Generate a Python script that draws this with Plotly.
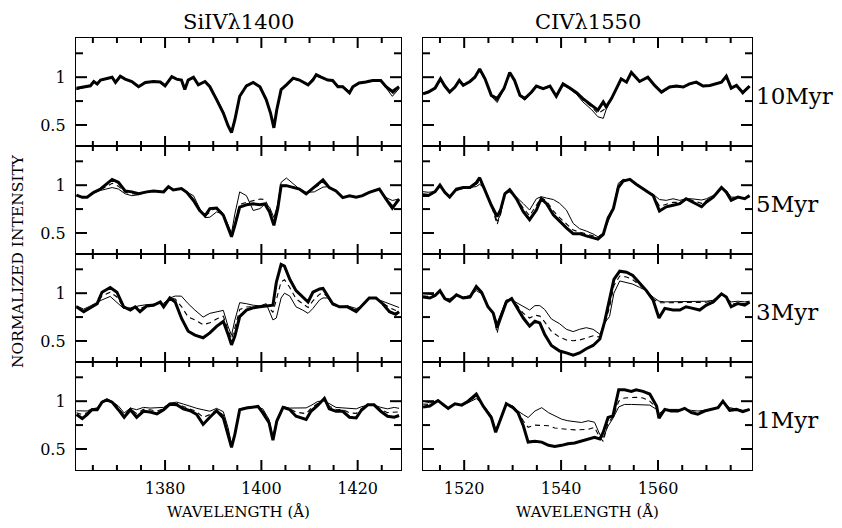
import plotly.graph_objects as go

# ---------------- data ----------------
# Si IV 1400, 10 Myr
si10_lam = [1361.6,1363.1,1364.5,1365.2,1365.9,1366.6,1367.9,1369.0,1369.7,1370.7,1371.7,1373.1,1374.5,1375.9,1377.6,1379.0,1380.0,1381.4,1382.4,1383.4,1384.1,1384.8,1385.9,1386.9,1388.3,1389.3,1390.7,1392.1,1393.1,1393.8,1394.5,1395.5,1396.9,1398.3,1399.7,1401.0,1401.9,1402.6,1403.2,1404.1,1405.2,1406.6,1407.9,1409.7,1410.7,1411.4,1412.4,1413.8,1414.8,1415.9,1416.9,1418.3,1419.0,1420.3,1421.7,1423.1,1424.8,1425.9,1427.2,1428.6]
si10_thick = [0.885,0.90,0.91,0.955,0.93,0.97,0.985,1.0,0.945,1.01,0.98,0.955,0.90,0.945,0.955,0.95,0.91,1.005,0.98,0.97,0.87,0.97,1.0,0.92,0.955,0.90,0.765,0.625,0.49,0.42,0.555,0.80,0.91,0.945,0.90,0.765,0.625,0.47,0.66,0.87,0.92,0.99,0.97,0.92,0.97,1.025,1.0,0.97,0.965,0.90,0.90,0.835,0.90,0.94,0.95,0.965,0.965,0.90,0.85,0.90]
si10_thin = [0.87,0.89,0.91,0.95,0.93,0.965,0.98,0.995,0.95,1.0,0.98,0.955,0.91,0.94,0.95,0.95,0.915,1.0,0.975,0.965,0.88,0.96,0.99,0.925,0.95,0.905,0.78,0.64,0.50,0.44,0.56,0.80,0.92,0.94,0.905,0.775,0.63,0.48,0.66,0.87,0.92,0.98,0.965,0.925,0.99,1.01,0.995,0.97,0.96,0.91,0.905,0.85,0.905,0.935,0.945,0.96,0.96,0.89,0.80,0.88]
si10_dash = [0.88,0.895,0.91,0.95,0.93,0.968,0.982,0.998,0.948,1.005,0.98,0.955,0.905,0.942,0.952,0.95,0.912,1.002,0.978,0.968,0.875,0.965,0.995,0.922,0.952,0.902,0.772,0.632,0.495,0.43,0.558,0.80,0.915,0.942,0.902,0.77,0.628,0.475,0.66,0.87,0.92,0.985,0.968,0.922,0.98,1.018,0.998,0.97,0.962,0.905,0.902,0.842,0.902,0.938,0.948,0.962,0.962,0.895,0.825,0.89]

# Si IV 1400, 5 Myr
si5_lam = [1361.6,1362.8,1363.8,1365.2,1366.6,1367.9,1369.0,1370.3,1371.7,1373.1,1374.5,1376.2,1377.6,1379.7,1380.7,1381.7,1383.4,1384.5,1385.9,1387.2,1388.3,1389.3,1390.7,1392.1,1393.1,1393.8,1394.5,1395.5,1396.9,1398.3,1399.7,1400.7,1401.7,1402.6,1403.4,1404.1,1405.2,1406.6,1407.9,1409.3,1411.0,1412.8,1414.1,1415.5,1416.9,1418.3,1419.7,1421.0,1422.4,1424.5,1425.9,1427.2,1428.6]
si5_thick = [0.897,0.873,0.873,0.925,0.96,1.01,1.06,1.03,0.94,0.93,0.91,0.93,0.94,0.93,0.985,0.95,0.965,0.925,0.84,0.735,0.68,0.755,0.76,0.685,0.55,0.46,0.58,0.77,0.795,0.805,0.795,0.805,0.72,0.58,0.755,0.995,0.995,0.975,0.96,0.91,0.985,1.055,0.975,0.94,0.87,0.89,0.875,0.89,0.925,0.96,0.855,0.76,0.855]
si5_thin = [0.89,0.87,0.875,0.92,0.945,0.96,0.975,0.96,0.91,0.89,0.90,0.93,0.935,0.93,0.975,0.95,0.96,0.93,0.89,0.755,0.66,0.665,0.72,0.70,0.58,0.50,0.70,0.93,0.89,0.735,0.755,0.80,0.77,0.66,0.80,1.03,1.075,1.02,0.96,0.925,0.93,0.98,0.985,0.94,0.87,0.89,0.875,0.89,0.925,0.96,0.87,0.84,0.855]
si5_dash = [0.895,0.87,0.875,0.925,0.955,0.985,1.02,0.99,0.925,0.91,0.905,0.93,0.94,0.93,0.98,0.95,0.963,0.928,0.85,0.74,0.675,0.72,0.77,0.70,0.56,0.47,0.61,0.80,0.82,0.84,0.855,0.85,0.75,0.60,0.76,1.0,1.0,0.98,0.96,0.915,0.97,1.03,0.975,0.94,0.87,0.89,0.875,0.89,0.925,0.96,0.86,0.79,0.855]

# Si IV 1400, 3 Myr
si3_lam = [1361.6,1363.1,1364.5,1365.9,1366.9,1368.6,1370.0,1371.4,1372.8,1373.8,1374.8,1376.2,1377.6,1379.0,1379.7,1381.0,1382.1,1383.4,1384.8,1386.2,1387.9,1389.3,1390.7,1392.1,1393.1,1393.8,1394.5,1395.5,1396.9,1398.3,1399.7,1401.0,1402.4,1403.1,1404.1,1404.8,1405.9,1407.2,1408.6,1409.7,1410.7,1412.1,1412.8,1413.8,1414.8,1416.2,1417.9,1419.7,1420.7,1422.4,1423.8,1425.2,1426.6,1427.9,1428.6]
si3_thick = [0.857,0.806,0.847,0.89,1.01,1.06,1.01,0.857,0.823,0.857,0.806,0.867,0.874,0.908,0.857,0.95,0.908,0.738,0.602,0.561,0.534,0.585,0.653,0.704,0.568,0.459,0.551,0.755,0.823,0.847,0.857,0.867,0.874,1.112,1.30,1.283,1.146,1.027,0.96,0.908,1.01,1.044,1.05,0.976,0.89,0.857,0.857,0.806,0.857,0.95,0.95,0.89,0.806,0.779,0.806]
si3_thin = [0.867,0.833,0.867,0.908,0.93,0.966,0.908,0.84,0.847,0.86,0.87,0.88,0.884,0.89,0.894,0.95,0.97,0.969,0.89,0.823,0.75,0.789,0.806,0.82,0.65,0.56,0.72,0.901,0.89,0.874,0.867,0.89,0.72,0.74,0.95,1.0,0.97,0.857,0.823,0.789,0.84,0.93,0.95,0.95,0.874,0.857,0.867,0.84,0.857,0.95,0.942,0.915,0.89,0.857,0.85]
si3_dash = [0.86,0.82,0.855,0.90,0.97,1.01,0.96,0.85,0.83,0.86,0.84,0.87,0.88,0.90,0.875,0.95,0.94,0.86,0.75,0.72,0.67,0.69,0.73,0.76,0.61,0.52,0.64,0.83,0.855,0.86,0.862,0.878,0.80,0.93,1.12,1.14,1.06,0.94,0.89,0.85,0.92,0.99,1.0,0.963,0.882,0.857,0.862,0.823,0.857,0.95,0.946,0.90,0.85,0.82,0.83]

# Si IV 1400, 1 Myr
si1_lam = [1361.6,1362.8,1363.8,1364.8,1365.9,1366.9,1367.9,1369.0,1370.3,1371.5,1372.8,1374.1,1375.5,1376.9,1378.3,1379.7,1381.0,1382.4,1383.8,1385.2,1386.6,1387.9,1389.3,1390.7,1392.1,1393.1,1393.8,1394.5,1395.5,1396.9,1398.3,1399.3,1400.3,1401.6,1402.4,1403.2,1404.5,1405.9,1407.2,1409.3,1410.3,1411.7,1413.1,1414.1,1415.5,1416.9,1418.3,1419.7,1420.7,1422.1,1423.4,1424.8,1426.2,1427.6,1428.6]
si1_thick = [0.86,0.818,0.86,0.911,0.911,0.99,1.014,0.99,0.911,0.832,0.911,0.832,0.894,0.887,0.866,0.911,0.969,0.962,0.921,0.90,0.86,0.757,0.832,0.90,0.825,0.654,0.517,0.654,0.911,0.928,0.935,0.945,0.877,0.774,0.592,0.791,0.935,0.911,0.842,0.808,0.894,0.955,1.03,0.921,0.894,0.894,0.832,0.825,0.90,0.962,0.962,0.894,0.842,0.832,0.85]
si1_thin = [0.90,0.897,0.897,0.92,0.93,0.997,1.024,0.997,0.95,0.877,0.928,0.911,0.935,0.928,0.928,0.935,0.98,0.99,0.97,0.945,0.925,0.91,0.895,0.925,0.89,0.72,0.55,0.67,0.92,0.935,0.945,0.935,0.92,0.808,0.62,0.81,0.945,0.928,0.928,0.93,0.955,0.997,1.003,0.975,0.935,0.93,0.925,0.92,0.94,0.96,0.96,0.935,0.92,0.935,0.925]
si1_dash = [0.88,0.86,0.88,0.915,0.92,0.993,1.02,0.993,0.93,0.855,0.92,0.87,0.915,0.91,0.895,0.923,0.975,0.976,0.945,0.92,0.89,0.83,0.86,0.91,0.855,0.68,0.53,0.66,0.915,0.932,0.94,0.94,0.90,0.79,0.605,0.80,0.94,0.92,0.885,0.87,0.925,0.975,1.015,0.948,0.915,0.912,0.878,0.872,0.92,0.961,0.961,0.915,0.88,0.883,0.888]

# C IV 1550, 10 Myr
c10_lam = [1511.5,1512.6,1514.0,1515.1,1516.0,1517.0,1518.1,1519.0,1519.8,1521.2,1522.2,1523.2,1524.3,1525.6,1526.8,1528.2,1529.4,1530.4,1531.5,1532.5,1533.9,1534.9,1536.3,1537.7,1539.0,1540.4,1541.8,1543.2,1544.5,1546.3,1547.6,1548.7,1549.3,1550.4,1551.4,1552.4,1553.5,1554.5,1556.2,1557.9,1559.3,1560.7,1562.4,1563.8,1565.2,1566.5,1567.9,1569.3,1570.7,1572.0,1573.1,1574.1,1575.1,1576.2,1577.5,1578.9]
c10_thick = [0.827,0.845,0.886,0.983,0.907,0.845,0.897,0.966,0.914,0.955,1.0,1.086,0.983,0.81,0.776,0.88,1.05,0.966,0.81,0.776,0.845,0.907,0.88,0.907,0.80,0.93,0.886,0.838,0.776,0.706,0.655,0.741,0.69,0.776,0.88,0.983,0.948,1.05,0.955,1.0,0.914,0.845,0.897,0.907,0.897,0.93,0.948,0.907,0.914,0.93,0.948,1.01,0.886,0.914,0.838,0.907]
c10_thin = [0.83,0.85,0.89,0.975,0.91,0.85,0.90,0.96,0.92,0.955,0.995,1.075,0.975,0.80,0.735,0.87,1.04,0.955,0.80,0.76,0.835,0.90,0.875,0.90,0.79,0.92,0.875,0.82,0.741,0.66,0.586,0.569,0.66,0.79,0.89,0.97,0.95,1.04,0.95,0.995,0.91,0.83,0.89,0.90,0.89,0.925,0.94,0.90,0.91,0.93,0.955,1.02,0.875,0.91,0.82,0.90]
c10_dash = [0.828,0.848,0.888,0.98,0.908,0.848,0.898,0.963,0.917,0.955,0.998,1.08,0.979,0.805,0.755,0.875,1.045,0.96,0.805,0.768,0.84,0.903,0.877,0.903,0.795,0.925,0.88,0.83,0.76,0.69,0.62,0.65,0.675,0.783,0.885,0.976,0.949,1.045,0.952,0.997,0.912,0.838,0.893,0.903,0.893,0.927,0.944,0.903,0.912,0.93,0.951,1.015,0.88,0.912,0.83,0.903]

# C IV 1550, 5 Myr
c5_lam = [1511.5,1512.6,1514.0,1515.0,1516.0,1517.0,1518.4,1519.8,1521.2,1522.5,1523.2,1524.3,1525.6,1526.8,1527.5,1528.4,1529.4,1530.8,1532.2,1533.5,1534.9,1535.9,1537.0,1538.4,1539.7,1541.1,1542.5,1543.8,1545.2,1546.6,1547.6,1548.7,1549.7,1550.8,1551.8,1552.8,1554.2,1555.5,1556.9,1557.9,1559.0,1560.3,1561.7,1563.1,1564.5,1565.8,1566.9,1567.9,1569.0,1570.0,1571.4,1573.1,1574.1,1575.1,1576.5,1577.9,1578.9]
c5_thick = [0.892,0.892,0.932,1.0,0.926,0.875,0.959,0.976,0.976,1.027,1.078,0.943,0.79,0.672,0.74,0.909,0.953,0.858,0.723,0.639,0.74,0.858,0.807,0.689,0.622,0.554,0.493,0.493,0.47,0.453,0.436,0.486,0.655,0.757,0.976,1.044,1.061,1.01,0.966,0.932,0.892,0.73,0.774,0.79,0.807,0.858,0.831,0.807,0.774,0.824,0.875,0.976,0.926,0.841,0.875,0.858,0.892]
c5_thin = [0.932,0.926,0.932,0.986,0.926,0.892,0.943,0.966,0.976,0.986,1.01,0.96,0.79,0.622,0.69,0.926,0.926,0.875,0.807,0.74,0.858,0.88,0.865,0.85,0.81,0.74,0.60,0.545,0.52,0.49,0.46,0.50,0.62,0.75,1.02,1.061,1.055,1.01,0.96,0.93,0.905,0.85,0.841,0.858,0.841,0.858,0.858,0.85,0.845,0.858,0.892,0.96,0.943,0.875,0.875,0.865,0.875]
c5_dash = [0.91,0.905,0.93,0.99,0.926,0.88,0.95,0.97,0.976,1.01,1.045,0.95,0.79,0.59,0.70,0.915,0.94,0.86,0.76,0.68,0.79,0.87,0.835,0.73,0.66,0.60,0.53,0.51,0.49,0.47,0.445,0.49,0.64,0.755,0.99,1.05,1.06,1.01,0.963,0.93,0.90,0.78,0.80,0.82,0.82,0.858,0.845,0.83,0.81,0.84,0.88,0.97,0.935,0.86,0.875,0.86,0.885]

# C IV 1550, 3 Myr
c3_lam = [1511.5,1512.9,1514.0,1515.0,1516.0,1517.0,1518.4,1519.8,1521.2,1522.5,1523.6,1524.9,1526.0,1526.8,1527.5,1528.7,1529.8,1530.8,1532.2,1533.5,1534.6,1535.6,1536.6,1538.0,1539.7,1541.1,1542.5,1543.8,1545.2,1546.6,1548.0,1549.0,1550.0,1550.9,1552.1,1553.5,1554.8,1556.2,1557.6,1559.0,1560.2,1561.4,1563.1,1564.5,1565.8,1567.2,1568.6,1570.0,1571.4,1573.1,1574.1,1575.1,1576.5,1577.9,1578.9]
c3_thick = [0.959,0.949,0.976,1.027,0.943,0.916,0.983,0.949,0.959,1.071,1.01,0.858,0.791,0.639,0.74,0.909,0.943,0.858,0.74,0.655,0.706,0.689,0.571,0.453,0.395,0.375,0.351,0.375,0.419,0.453,0.52,0.706,0.943,1.145,1.23,1.22,1.186,1.111,1.027,0.926,0.74,0.841,0.824,0.824,0.858,0.841,0.824,0.875,0.909,0.993,0.959,0.858,0.892,0.875,0.909]
c3_thin = [0.993,0.983,0.983,1.01,0.943,0.943,0.976,0.959,0.976,1.027,0.993,0.858,0.791,0.689,0.78,0.93,0.93,0.90,0.858,0.824,0.87,0.87,0.83,0.73,0.68,0.622,0.598,0.622,0.639,0.622,0.571,0.689,0.757,1.0,1.128,1.111,1.095,1.061,1.027,0.959,0.916,0.909,0.909,0.909,0.916,0.909,0.916,0.916,0.926,0.993,0.95,0.909,0.916,0.909,0.916]
c3_dash = [0.97,0.965,0.98,1.02,0.943,0.93,0.98,0.955,0.965,1.05,1.0,0.858,0.79,0.578,0.76,0.92,0.935,0.88,0.79,0.74,0.77,0.76,0.70,0.60,0.54,0.51,0.503,0.51,0.53,0.554,0.54,0.69,0.85,1.08,1.18,1.17,1.14,1.085,1.027,0.94,0.90,0.90,0.90,0.90,0.905,0.90,0.90,0.905,0.92,0.993,0.955,0.88,0.90,0.89,0.912]

# C IV 1550, 1 Myr
c1_lam = [1511.5,1512.9,1514.6,1515.7,1516.7,1518.1,1519.5,1520.8,1522.5,1523.9,1525.6,1526.5,1527.4,1528.7,1530.1,1531.1,1532.2,1533.2,1534.6,1536.0,1537.4,1538.7,1540.1,1541.4,1542.8,1544.2,1545.6,1546.9,1548.0,1548.7,1549.7,1550.7,1551.9,1553.1,1554.5,1555.5,1556.9,1558.3,1559.7,1560.2,1561.4,1562.7,1564.1,1565.5,1566.9,1568.2,1569.6,1571.0,1572.4,1573.4,1574.8,1576.2,1577.5,1578.9]
c1_thick = [0.938,0.949,1.007,0.966,0.925,0.973,0.959,1.0,1.075,0.949,0.829,0.675,0.795,0.973,0.932,0.88,0.743,0.572,0.582,0.572,0.538,0.527,0.538,0.555,0.562,0.582,0.606,0.623,0.606,0.675,0.829,0.846,1.12,1.12,1.103,1.12,1.103,1.075,0.949,0.822,0.914,0.897,0.897,0.925,0.88,0.863,0.897,0.914,0.932,1.0,0.904,0.914,0.89,0.914]
c1_thin = [1.0,0.983,1.007,0.95,0.932,0.966,0.959,0.983,1.027,0.966,0.846,0.692,0.812,0.973,0.949,0.897,0.86,0.829,0.897,0.932,0.88,0.846,0.812,0.795,0.788,0.777,0.795,0.78,0.65,0.62,0.74,0.82,0.94,0.966,0.966,0.966,0.959,0.959,0.914,0.87,0.914,0.914,0.914,0.914,0.904,0.897,0.904,0.914,0.94,0.993,0.932,0.914,0.904,0.914]
c1_dash = [0.97,0.965,1.007,0.958,0.928,0.97,0.959,0.99,1.05,0.958,0.838,0.683,0.80,0.973,0.94,0.89,0.795,0.726,0.75,0.75,0.743,0.72,0.709,0.705,0.70,0.70,0.705,0.726,0.62,0.58,0.78,0.83,1.0,1.034,1.04,1.04,1.034,1.0,0.93,0.845,0.914,0.905,0.905,0.92,0.89,0.88,0.90,0.914,0.935,0.997,0.918,0.914,0.897,0.914]

ages = ["10Myr", "5Myr", "3Myr", "1Myr"]
titles = ["SiIV\u03bb1400", "CIV\u03bb1550"]
x_ranges = [[1361.5, 1429.0], [1511.5, 1579.4]]
x_label_ticks = [[1380, 1400, 1420], [1520, 1540, 1560]]
x_minor_ticks = [list(range(1365, 1430, 5)), list(range(1515, 1580, 5))]
y_range = [0.28, 1.41]
y_label_ticks = [0.5, 1.0]
y_minor_ticks = [0.5, 0.75, 1.0, 1.25]

panels = [
    [(si10_lam, si10_thick, si10_thin, si10_dash), (c10_lam, c10_thick, c10_thin, c10_dash)],
    [(si5_lam, si5_thick, si5_thin, si5_dash), (c5_lam, c5_thick, c5_thin, c5_dash)],
    [(si3_lam, si3_thick, si3_thin, si3_dash), (c3_lam, c3_thick, c3_thin, c3_dash)],
    [(si1_lam, si1_thick, si1_thin, si1_dash), (c1_lam, c1_thick, c1_thin, c1_dash)],
]

# ---------------- layout ----------------
# the page body has an 8 px margin, so the figure is drawn 8 px in from the window corner
OFF = 8
W, H = 842 - OFF, 528 - OFF
col_px = [(76 - OFF, 401 - OFF), (423 - OFF, 752 - OFF)]
row_px = [r - OFF for r in (38, 146, 254, 362, 470)]
FONT = "DejaVu Serif"
TICKW = 2

fig = go.Figure()
layout = dict(
    width=W, height=H, margin=dict(l=0, r=0, t=0, b=0),
    paper_bgcolor="white", plot_bgcolor="white", showlegend=False,
    font=dict(family=FONT, color="black"),
)

annotations = []
shapes = []
for r in range(4):
    for c in range(2):
        n = r * 2 + c + 1
        xs = "" if n == 1 else str(n)
        xr, yr = "x" + xs, "y" + xs
        lam, thick, thin, dash = panels[r][c]
        for yv, lw, dsh in ((thin, 1.0, "solid"), (dash, 1.1, "5px,4px"), (thick, 3.0, "solid")):
            fig.add_trace(go.Scatter(x=lam, y=yv, xaxis=xr, yaxis=yr,
                                     mode="lines", line=dict(color="black", width=lw, dash=dsh),
                                     hoverinfo="skip"))
        x0, x1 = col_px[c]
        ytop, ybot = row_px[r], row_px[r + 1]
        layout["xaxis" + xs] = dict(
            domain=[x0 / W, x1 / W], anchor=yr, range=x_ranges[c],
            showline=True, mirror=True, linecolor="black", linewidth=1.3,
            ticks="", tickmode="array", tickvals=x_label_ticks[c],
            showgrid=False, zeroline=False, showticklabels=(r == 3),
            tickfont=dict(family=FONT, size=16, color="black"), ticklabelstandoff=4,
        )
        layout["yaxis" + xs] = dict(
            domain=[1 - ybot / H, 1 - ytop / H], anchor=xr, range=y_range,
            showline=True, mirror=True, linecolor="black", linewidth=1.3,
            ticks="", tickmode="array", tickvals=y_label_ticks,
            showgrid=False, zeroline=False, showticklabels=(c == 0),
            tickfont=dict(family=FONT, size=16, color="black"), ticklabelstandoff=6,
        )
        # tick marks (inside, on all four sides)
        for t in x_minor_ticks[c]:
            L = 10 if t % 20 == 0 else 5
            for anch, sgn in ((0, 1), (1, -1)):
                shapes.append(dict(type="line", xref=xr, yref=yr + " domain", x0=t, x1=t,
                                   ysizemode="pixel", yanchor=anch, y0=0, y1=sgn * L,
                                   line=dict(color="black", width=TICKW), layer="above"))
        for t in y_minor_ticks:
            L = 11 if t in y_label_ticks else 7
            for anch, sgn in ((0, 1), (1, -1)):
                shapes.append(dict(type="line", xref=xr + " domain", yref=yr, y0=t, y1=t,
                                   xsizemode="pixel", xanchor=anch, x0=0, x1=sgn * L,
                                   line=dict(color="black", width=TICKW), layer="above"))
        if c == 1:
            annotations.append(dict(text=ages[r], xref="paper", yref=yr,
                                    x=(754 - OFF) / W, y=0.80, xanchor="left", yanchor="middle",
                                    showarrow=False, font=dict(family=FONT, size=23, color="black")))

for c in range(2):
    x0, x1 = col_px[c]
    annotations.append(dict(text=titles[c], xref="paper", yref="paper",
                            x=(x0 + x1) / 2 / W, y=1 - (22 - OFF) / H, xanchor="center", yanchor="middle",
                            showarrow=False, font=dict(family=FONT, size=21, color="black")))
    annotations.append(dict(text="WAVELENGTH (\u00c5)", xref="paper", yref="paper",
                            x=(x0 + x1) / 2 / W, y=1 - (512 - OFF) / H, xanchor="center", yanchor="middle",
                            showarrow=False, font=dict(family=FONT, size=15, color="black")))

annotations.append(dict(text="NORMALIZED INTENSITY", xref="paper", yref="paper",
                        x=(18 - OFF) / W, y=1 - (261 - OFF) / H, xanchor="center", yanchor="middle",
                        textangle=-90, showarrow=False, font=dict(family=FONT, size=15.5, color="black")))

layout["annotations"] = annotations
layout["shapes"] = shapes
fig.update_layout(**layout)
fig.write_html("out.html")
